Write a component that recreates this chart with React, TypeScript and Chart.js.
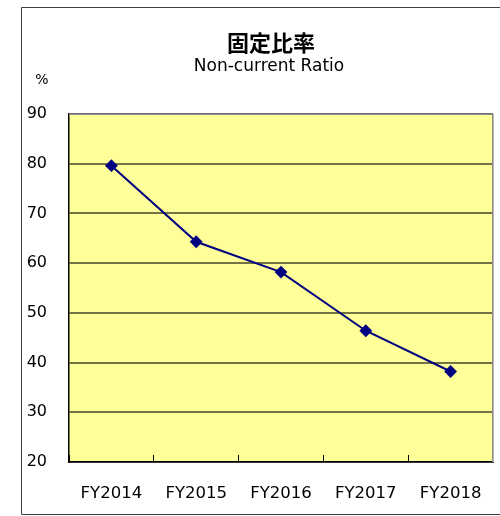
import React, { useEffect, useRef } from "react";
import { Chart, registerables } from "chart.js";

Chart.register(...registerables);

const categories = ["FY2014", "FY2015", "FY2016", "FY2017", "FY2018"];
const ratioValues = [79.6, 64.3, 58.2, 46.4, 38.2];
const titleText = "固定比率";
const subtitleText = "Non-current Ratio";
const unitText = "%";
const yMin = 20;
const yMax = 90;
const yStep = 10;

const latinFont = "'DejaVu Sans', sans-serif";
const cjkFont = "'Noto Sans CJK JP', sans-serif";

const framePlugin = {
  id: "frame",
  beforeDraw(chart: any) {
    const { ctx, chartArea } = chart;
    const { left, top, right, bottom } = chartArea;
    ctx.save();
    ctx.fillStyle = "#FFFF99";
    ctx.fillRect(left, top, right - left, bottom - top);
    ctx.restore();
  },
  afterDraw(chart: any) {
    const { ctx, chartArea } = chart;
    const { left, top, right } = chartArea;
    ctx.save();
    // plot area top/right gray border
    ctx.strokeStyle = "#8a8a8a";
    ctx.lineWidth = 1;
    ctx.beginPath();
    ctx.moveTo(left, top + 0.5);
    ctx.lineTo(right, top + 0.5);
    ctx.moveTo(right - 0.5, top);
    ctx.lineTo(right - 0.5, chartArea.bottom);
    ctx.stroke();
    ctx.strokeStyle = "#b8b8b8";
    ctx.beginPath();
    ctx.moveTo(right + 0.5, top);
    ctx.lineTo(right + 0.5, chartArea.bottom);
    ctx.stroke();
    // outer frame
    ctx.strokeStyle = "#404040";
    ctx.lineWidth = 1;
    ctx.beginPath();
    ctx.moveTo(500, 7.5);
    ctx.lineTo(21.5, 7.5);
    ctx.lineTo(21.5, 514.5);
    ctx.lineTo(500, 514.5);
    ctx.stroke();
    // titles
    ctx.fillStyle = "#000";
    ctx.textAlign = "center";
    ctx.textBaseline = "middle";
    ctx.font = "bold 22px " + cjkFont;
    ctx.fillText(titleText, 271, 43);
    ctx.font = "17px " + latinFont;
    ctx.fillText(subtitleText, 269, 67);
    // unit label
    ctx.font = "14px " + latinFont;
    ctx.fillText(unitText, 42, 80);
    ctx.restore();
  },
};

export default function App() {
  const canvasRef = useRef<HTMLCanvasElement | null>(null);

  useEffect(() => {
    const canvas = canvasRef.current;
    if (!canvas) return;
    const chart = new Chart(canvas, {
      type: "line",
      data: {
        labels: categories,
        datasets: [
          {
            data: ratioValues,
            borderColor: "#000080",
            backgroundColor: "#000080",
            borderWidth: 2,
            pointStyle: "rectRot",
            pointRadius: 5,
            pointHoverRadius: 5,
            pointBackgroundColor: "#000080",
            pointBorderColor: "#000080",
            tension: 0,
            fill: false,
          },
        ],
      },
      options: {
        animation: false,
        responsive: false,
        devicePixelRatio: 1,
        layout: { padding: { left: 20, right: 6, top: 114, bottom: 0 } },
        plugins: {
          legend: { display: false },
          tooltip: { enabled: false },
          title: { display: false },
        },
        scales: {
          x: {
            type: "category",
            offset: true,
            grid: {
              offset: true,
              drawOnChartArea: false,
              drawTicks: true,
              tickLength: -7,
              color: "#000",
              lineWidth: 1,
            },
            border: { display: true, color: "#000", width: 1.5 },
            ticks: {
              color: "#000",
              font: { family: latinFont, size: 16.5 },
              padding: 29,
              maxRotation: 0,
              autoSkip: false,
            },
            afterFit: (s: any) => {
              s.height = 54;
              s.paddingLeft = 0;
              s.paddingRight = 0;
            },
          },
          y: {
            min: yMin,
            max: yMax,
            grid: {
              color: "rgba(0,0,0,0.55)",
              lineWidth: 2,
              drawTicks: false,
            },
            border: { display: true, color: "#000", width: 1.5 },
            ticks: {
              stepSize: yStep,
              color: "#000",
              font: { family: latinFont, size: 16 },
              padding: 22,
            },
            afterFit: (s: any) => {
              s.width = 49;
              s.paddingTop = 0;
              s.paddingBottom = 0;
            },
          },
        },
      },
      plugins: [framePlugin],
    });
    return () => chart.destroy();
  }, []);

  return (
    <canvas
      ref={canvasRef}
      width={500}
      height={516}
      style={{ position: "absolute", left: 0, top: 0, width: 500, height: 516, display: "block" }}
    />
  );
}
